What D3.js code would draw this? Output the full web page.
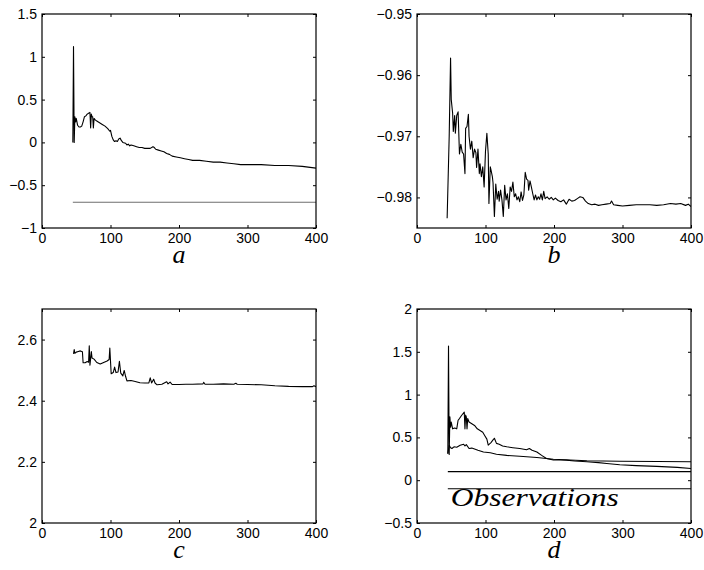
<!DOCTYPE html>
<html>
<head>
<meta charset="utf-8">
<script src="https://cdn.jsdelivr.net/npm/d3@7"></script>
<style>
  html, body { margin: 0; padding: 0; background: #fff; }
  svg { display: block; }
  .tick text { font-family: "Liberation Sans", Arial, sans-serif; font-size: 14px; fill: #000; }
</style>
</head>
<body>
<svg id="chart" width="704" height="570"></svg>
<script>
// ---------------- DATA ----------------
const xTicks = [0, 100, 200, 300, 400];

// Panel a
const aTicks = [-1, -0.5, 0, 0.5, 1, 1.5];
const aX = [45,46,47,48,49,50,52,54,56,58,60,62,64,66,68,70,71,72,73,74,75,76,78,80,84,88,92,96,99,100,102,104,106,108,110,112,114,116,118,122,124,126,128,130,134,138,142,146,150,154,158,162,164,166,170,174,178,182,186,190,196,202,208,214,220,230,240,250,260,270,280,290,300,310,320,340,360,380,400];
const aY = [0.0,1.12,0.0,0.30,0.24,0.28,0.20,0.18,0.18,0.19,0.24,0.30,0.31,0.33,0.34,0.35,0.17,0.33,0.30,0.30,0.17,0.28,0.26,0.25,0.23,0.21,0.19,0.16,0.13,0.14,0.07,0.03,0.01,0.02,0.01,0.04,0.05,0.02,0.0,-0.01,-0.03,-0.02,-0.04,-0.03,-0.04,-0.05,-0.06,-0.06,-0.07,-0.07,-0.07,-0.05,-0.06,-0.08,-0.09,-0.10,-0.11,-0.13,-0.14,-0.16,-0.17,-0.18,-0.19,-0.20,-0.21,-0.21,-0.22,-0.23,-0.23,-0.24,-0.25,-0.26,-0.26,-0.26,-0.26,-0.27,-0.27,-0.28,-0.30];
const aRefX = [45, 400];
const aRefY = [-0.7, -0.7];

// Panel b
const bTicks = [-0.98, -0.97, -0.96, -0.95];
const bX = [44,47,49,50,52,53,55,56,58,60,62,64,66,68,70,71,73,75,76,78,80,82,84,86,87,89,91,92,94,96,98,100,102,104,105,107,108,110,111,113,115,117,119,120,122,124,126,128,130,132,134,136,138,140,142,144,146,148,150,152,154,156,158,160,162,163,165,167,169,171,173,175,177,179,181,183,185,187,190,193,196,199,202,206,210,214,218,222,226,230,234,238,242,246,250,255,260,265,270,276,282,284,287,293,300,310,320,330,340,350,360,370,378,385,392,396,400];
const bY = [-0.9834,-0.9700,-0.9572,-0.9640,-0.9662,-0.9692,-0.9666,-0.9695,-0.9666,-0.9660,-0.9729,-0.9713,-0.9726,-0.9729,-0.9761,-0.9687,-0.9684,-0.9664,-0.9700,-0.9721,-0.9708,-0.9735,-0.9721,-0.9727,-0.9751,-0.9721,-0.9761,-0.9745,-0.9766,-0.9750,-0.9783,-0.9724,-0.9695,-0.9729,-0.9810,-0.9750,-0.9755,-0.9766,-0.9776,-0.9831,-0.9778,-0.9803,-0.9790,-0.9806,-0.9788,-0.9804,-0.9831,-0.9780,-0.9804,-0.9794,-0.9818,-0.9783,-0.9790,-0.9775,-0.9799,-0.9794,-0.9804,-0.9799,-0.9807,-0.9791,-0.9805,-0.9796,-0.9759,-0.9770,-0.9772,-0.9788,-0.9773,-0.9783,-0.9794,-0.9804,-0.9796,-0.9804,-0.9799,-0.9803,-0.9794,-0.9804,-0.9790,-0.9802,-0.9799,-0.9803,-0.9800,-0.9804,-0.9801,-0.9805,-0.9807,-0.9804,-0.9811,-0.9803,-0.9806,-0.9805,-0.9802,-0.9799,-0.9800,-0.9806,-0.9810,-0.9812,-0.9811,-0.9813,-0.9812,-0.9811,-0.9810,-0.9806,-0.9812,-0.9813,-0.9814,-0.9813,-0.9812,-0.9812,-0.9812,-0.9813,-0.9812,-0.9810,-0.9811,-0.9810,-0.9813,-0.9811,-0.9815];

// Panel c
const cTicks = [2, 2.2, 2.4, 2.6];
const cX = [46,47,48,50,53,56,59,60,63,66,68,69,70,72,73,76,80,85,90,95,98,99,101,104,106,108,111,113,115,118,120,122,124,130,136,143,150,156,158,160,163,165,168,175,182,184,187,190,200,210,220,235,236,238,250,265,280,283,285,300,320,340,360,380,395,397,400];
const cY = [2.553,2.567,2.555,2.559,2.561,2.563,2.560,2.524,2.524,2.528,2.526,2.580,2.516,2.561,2.540,2.536,2.525,2.520,2.525,2.530,2.535,2.572,2.488,2.492,2.510,2.492,2.494,2.529,2.490,2.481,2.499,2.480,2.465,2.466,2.463,2.459,2.458,2.458,2.475,2.458,2.470,2.458,2.452,2.454,2.462,2.455,2.461,2.453,2.453,2.454,2.454,2.455,2.460,2.454,2.454,2.455,2.454,2.457,2.454,2.453,2.452,2.449,2.447,2.446,2.446,2.449,2.446];

// Panel d
const dTicks = [-0.5, 0, 0.5, 1, 1.5, 2];
const d1X = [45,46,47,48,49,50,52,55,58,60,62,65,69,70,71,72,73,74,76,80,84,88,92,96,99,102,104,108,111,113,116,120,125,131,140,150,160,164,168,175,182,189,199,210,218,230,248,265,277,296,320,350,380,400];
const d1Y = [0.31,1.567,0.30,0.74,0.62,0.68,0.60,0.61,0.60,0.70,0.72,0.756,0.795,0.60,0.76,0.74,0.60,0.72,0.68,0.66,0.64,0.60,0.58,0.56,0.52,0.48,0.41,0.44,0.47,0.49,0.43,0.42,0.40,0.39,0.38,0.37,0.355,0.37,0.35,0.33,0.29,0.253,0.236,0.236,0.234,0.225,0.215,0.205,0.195,0.180,0.170,0.162,0.150,0.137];
const d2X = [45,47,49,51,54,58,63,68,70,72,76,80,89,97,107,116,131,150,175,199,223,248,296,350,400];
const d2Y = [0.31,0.408,0.38,0.37,0.39,0.385,0.408,0.42,0.40,0.415,0.37,0.375,0.35,0.33,0.32,0.304,0.29,0.28,0.265,0.245,0.236,0.228,0.222,0.218,0.215];
const dRef1X = [45, 400], dRef1Y = [0.1, 0.1];
const dRef2X = [45, 400], dRef2Y = [-0.1, -0.1];
const dNote = "Observations";

const panelLabels = ["a", "b", "c", "d"];

// ---------------- DRAW ----------------
const svg = d3.select("#chart");
const W = 274, H = 214;
const panels = [
  { left: 42,  top: 14,  yDomain: [-1, 1.5],       yTicks: aTicks, label: panelLabels[0],
    series: [ {x: aRefX, y: aRefY, color: "#6e6e6e"}, {x: aX, y: aY, color: "#000"} ] },
  { left: 417, top: 14,  yDomain: [-0.985, -0.95], yTicks: bTicks, label: panelLabels[1],
    series: [ {x: bX, y: bY, color: "#000"} ] },
  { left: 42,  top: 309, yDomain: [2, 2.7],        yTicks: cTicks, label: panelLabels[2],
    series: [ {x: cX, y: cY, color: "#000"} ] },
  { left: 417, top: 309, yDomain: [-0.5, 2],       yTicks: dTicks, label: panelLabels[3],
    series: [ {x: dRef1X, y: dRef1Y, color: "#000"}, {x: dRef2X, y: dRef2Y, color: "#000"},
              {x: d2X, y: d2Y, color: "#000"}, {x: d1X, y: d1Y, color: "#000"} ],
    note: dNote }
];

panels.forEach(p => {
  const g = svg.append("g").attr("transform", `translate(${p.left},${p.top})`);
  const x = d3.scaleLinear().domain([0, 400]).range([0, W]);
  const y = d3.scaleLinear().domain(p.yDomain).range([H, 0]);
  const fmt = d => d3.format("")(d).replace("-", "\u2212");

  // axes (inside ticks on all four sides)
  const bottom = g.append("g").attr("transform", `translate(0,${H})`)
    .call(d3.axisBottom(x).tickValues(xTicks).tickSize(-3).tickPadding(5).tickFormat(fmt));
  const top = g.append("g")
    .call(d3.axisTop(x).tickValues(xTicks).tickSize(-3).tickFormat(""));
  const left = g.append("g")
    .call(d3.axisLeft(y).tickValues(p.yTicks).tickSize(-3).tickPadding(5).tickFormat(fmt));
  const right = g.append("g").attr("transform", `translate(${W},0)`)
    .call(d3.axisRight(y).tickValues(p.yTicks).tickSize(-3).tickFormat(""));
  [bottom, top, left, right].forEach(a => {
    a.select(".domain").remove();
    a.selectAll(".tick line").attr("stroke", "#000").attr("stroke-width", 1);
  });

  // clip
  const clipId = "clip" + p.label;
  g.append("clipPath").attr("id", clipId).append("rect")
    .attr("x", 0).attr("y", 0).attr("width", W).attr("height", H);

  const line = d3.line().x(d => x(d[0])).y(d => y(d[1]));
  p.series.forEach(s => {
    const pts = s.x.map((v, i) => [v, s.y[i]]);
    g.append("path").datum(pts)
      .attr("clip-path", `url(#${clipId})`)
      .attr("fill", "none").attr("stroke", s.color).attr("stroke-width", 1.1)
      .attr("stroke-linejoin", "round")
      .attr("d", line);
  });

  // frame
  g.append("rect").attr("x", 0).attr("y", 0).attr("width", W).attr("height", H)
    .attr("fill", "none").attr("stroke", "#000").attr("stroke-width", 1.2);

  // panel label
  g.append("text").attr("x", W / 2).attr("y", H + 35)
    .attr("text-anchor", "middle")
    .attr("font-family", "'Liberation Serif', 'DejaVu Serif', serif")
    .attr("font-style", "italic").attr("font-size", 26)
    .text(p.label);

  if (p.note) {
    g.append("text").attr("x", x(45) + 3).attr("y", y(-0.3))
      .attr("font-family", "'Liberation Serif', 'DejaVu Serif', serif")
      .attr("font-style", "italic").attr("font-size", 25)
      .attr("textLength", 168).attr("lengthAdjust", "spacingAndGlyphs")
      .text(p.note);
  }
});
</script>
</body>
</html>
